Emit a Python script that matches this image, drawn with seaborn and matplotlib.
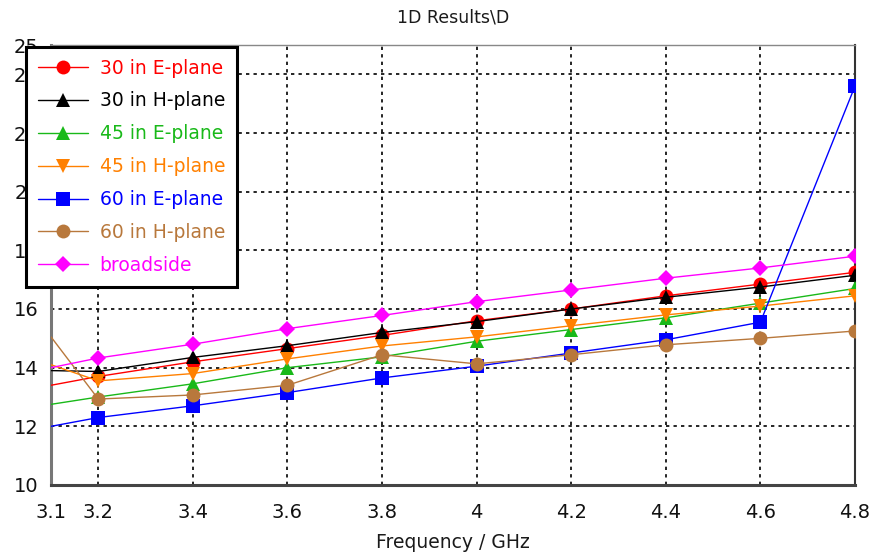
import matplotlib
matplotlib.use("Agg")
import matplotlib.pyplot as plt
from matplotlib.lines import Line2D
import seaborn as sns
import pandas as pd

# Directivity versus frequency for each beam direction
freq = [3.1, 3.2, 3.4, 3.6, 3.8, 4.0, 4.2, 4.4, 4.6, 4.8]
e_plane_30 = [13.4, 13.7, 14.2, 14.65, 15.1, 15.6, 16.0, 16.45, 16.85, 17.25]
h_plane_30 = [13.9, 13.87, 14.35, 14.75, 15.2, 15.57, 16.0, 16.4, 16.75, 17.15]
e_plane_45 = [12.75, 13.0, 13.45, 14.0, 14.37, 14.9, 15.3, 15.7, 16.2, 16.7]
h_plane_45 = [14.1, 13.55, 13.8, 14.3, 14.74, 15.05, 15.43, 15.8, 16.1, 16.45]
e_plane_60 = [12.0, 12.3, 12.7, 13.15, 13.65, 14.05, 14.5, 14.95, 15.55, 23.6]
h_plane_60 = [15.05, 12.93, 13.07, 13.4, 14.44, 14.13, 14.44, 14.78, 15.0, 15.25]
broadside = [14.0, 14.33, 14.8, 15.33, 15.78, 16.25, 16.65, 17.05, 17.4, 17.8]

labels = ["30 in E-plane", "30 in H-plane", "45 in E-plane", "45 in H-plane",
          "60 in E-plane", "60 in H-plane", "broadside"]
series = [e_plane_30, h_plane_30, e_plane_45, h_plane_45, e_plane_60, h_plane_60, broadside]
colors = ["#ff0000", "#000000", "#19b919", "#ff8000", "#0000ff", "#b8783c", "#ff00ff"]
markers = ["o", "^", "^", "v", "s", "o", "D"]
msizes = [10, 10, 10, 10, 10, 10, 8.5]

xticks = [3.1, 3.2, 3.4, 3.6, 3.8, 4.0, 4.2, 4.4, 4.6, 4.8]
xticklabels = ["3.1", "3.2", "3.4", "3.6", "3.8", "4", "4.2", "4.4", "4.6", "4.8"]
yticks = [10, 12, 14, 16, 18, 20, 22, 24, 25]

sns.set_style("white")
plt.rcParams["font.family"] = ["DejaVu Sans"]

fig = plt.figure(figsize=(8.72, 5.58), dpi=100)
ax = fig.add_axes([51 / 872, 1 - 485 / 558, (855 - 51) / 872, (485 - 45) / 558])

handles = []
for lab, ys, c, m, ms in zip(labels, series, colors, markers, msizes):
    df = pd.DataFrame({"freq": freq, "D": ys})
    sns.lineplot(data=df, x="freq", y="D", ax=ax, color=c, linewidth=1.0,
                 marker=m, markersize=ms, markeredgewidth=0, markevery=slice(1, None),
                 legend=False, zorder=3)
    handles.append(Line2D([0], [0], color=c, linewidth=1.0, marker=m,
                          markersize=ms, markeredgewidth=0, label=lab))

ax.set_xlim(3.1, 4.8)
ax.set_ylim(10, 25)
ax.set_xticks(xticks)
ax.set_xticklabels(xticklabels)
ax.set_yticks(yticks)
ax.tick_params(axis="both", direction="inout", length=9.5, width=1, color="#444444",
               labelsize=14, labelcolor="#111111")
ax.tick_params(axis="x", pad=8)
ax.tick_params(axis="y", pad=4)

ax.grid(True, color="black", linestyle=(0, (2, 2.5)), linewidth=1.2)
ax.set_axisbelow(True)

ax.spines["left"].set_color("#777777")
ax.spines["left"].set_linewidth(2.2)
ax.spines["bottom"].set_color("#444444")
ax.spines["bottom"].set_linewidth(2.2)
ax.spines["right"].set_color("#333333")
ax.spines["right"].set_linewidth(1.5)
ax.spines["top"].set_color("#888888")
ax.spines["top"].set_linewidth(1.0)

ax.set_xlabel("Frequency / GHz", fontsize=13.5, color="#1a1a1a", labelpad=8)
ax.set_ylabel("")
fig.text(453 / 872, 1 - 18 / 558, "1D Results\\D", ha="center", va="center",
         fontsize=12.5, color="#1a1a1a")

leg = ax.legend(handles=handles, loc="upper left",
                bbox_to_anchor=(26 / 872, 1 - 47 / 558), bbox_transform=fig.transFigure,
                borderaxespad=0, fontsize=13.5, handlelength=2.7, handletextpad=0.6,
                labelspacing=0.74, borderpad=0.62, fancybox=False, framealpha=1,
                edgecolor="black")
leg.get_frame().set_linewidth(2.2)
leg.set_zorder(10)
for txt, c in zip(leg.get_texts(), colors):
    txt.set_color(c)

fig.savefig("out.png", dpi=100, facecolor="white")
